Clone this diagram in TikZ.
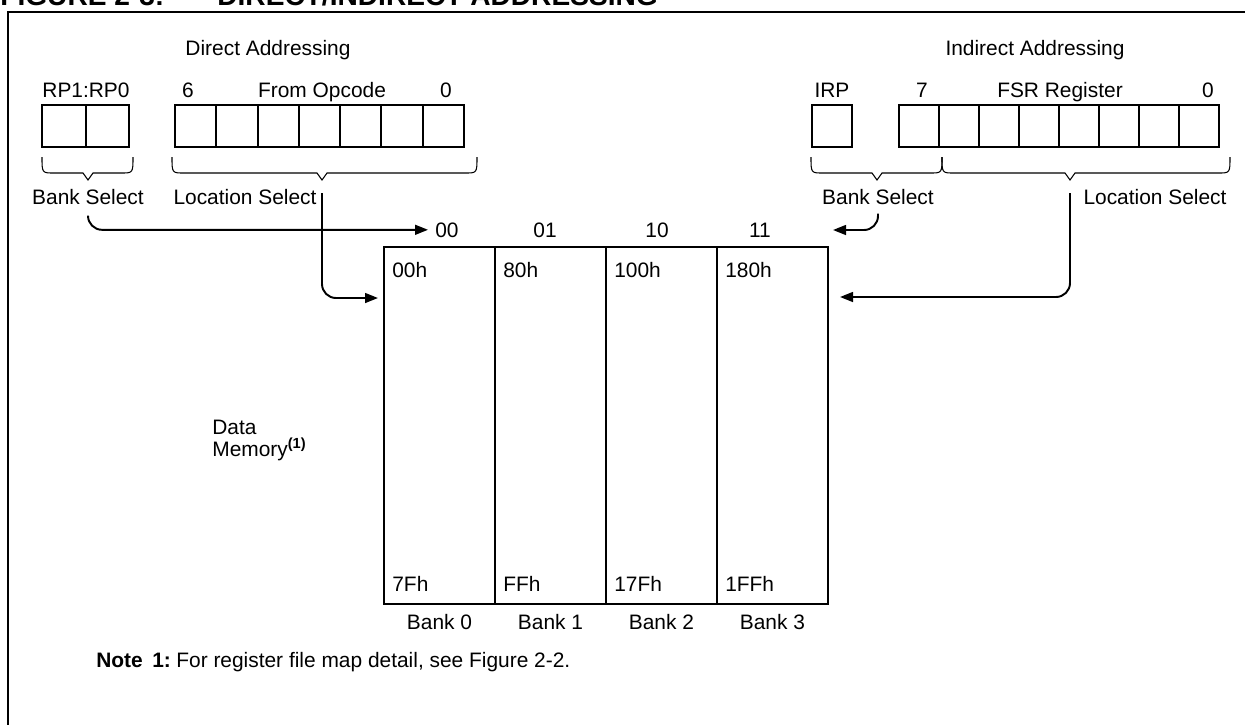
\documentclass[tikz,border=0pt]{standalone}
\usepackage{fontspec}
\setmainfont{Liberation Sans}
\usepackage{tikz}
\usetikzlibrary{arrows.meta,positioning}

\begin{document}
\begin{tikzpicture}[x=0.02cm,y=-0.02cm,>={Triangle[length=7.4pt,width=5.6pt]},
  font=\fontsize{11.9}{14}\selectfont,
  lbl/.style={inner sep=0pt,anchor=base},
  bitbox/.style={draw,line width=1.1pt,outer sep=0pt,inner sep=0pt,minimum height=0.84cm},
  bankbox/.style={draw,line width=1.1pt,outer sep=0pt,inner sep=0pt,minimum width=2.22cm,minimum height=7.14cm},
  brace/.style={line width=0.6pt},
  conn/.style={->,line width=1.1pt,rounded corners=0.28cm}]
\useasboundingbox (0,0) rectangle (1245,724);
\clip (0,0) rectangle (1245,724);

\draw[line width=1.3pt] (1250,12) -- (8,12) -- (8,730);
\node[lbl,anchor=base west,font=\fontsize{16}{18}\selectfont\bfseries] (fig) at (0,5) {FIGURE 2-3:};
\node[lbl,anchor=base west,font=\fontsize{16}{18}\selectfont\bfseries] (title) at (217,5) {DIRECT/INDIRECT ADDRESSING};

\node[lbl] (dirT) at (268,55) {Direct Addressing};
\node[lbl] (rpT) at (86,97) {RP1:RP0};
\node[lbl] (op6T) at (188,97) {6};
\node[lbl] (opT) at (322,97) {From Opcode};
\node[lbl] (op0T) at (446,97) {0};
\node[bitbox,minimum width=0.87cm] (rp1) at (64,126) {};
\node[bitbox,minimum width=0.87cm,right=0pt of rp1] (rp0) {};
\node[bitbox,minimum width=0.826cm] (op6) at (195.6,126) {};
\foreach \b [remember=\b as \p (initially 6)] in {5,4,3,2,1,0}
  \node[bitbox,minimum width=0.826cm,right=0pt of op\p] (op\b) {};

\node[lbl] (indT) at (1035,55) {Indirect Addressing};
\node[lbl] (irpT) at (832,97) {IRP};
\node[lbl] (fsr7T) at (922,97) {7};
\node[lbl] (fsrT) at (1060,97) {FSR Register};
\node[lbl] (fsr0T) at (1208,97) {0};
\node[bitbox,minimum width=0.8cm] (irp) at (832,126) {};
\node[bitbox,minimum width=0.8cm] (fsr7) at (919,126) {};
\foreach \b [remember=\b as \p (initially 7)] in {6,5,4,3,2,1,0}
  \node[bitbox,minimum width=0.8cm,right=0pt of fsr\p] (fsr\b) {};

\foreach \xa/\xm/\xb/\n in {42/88/133/BD,172/322/477/LD,811/877/942/BI,942/1070/1230/LI}{
  \draw[brace] (\xa,157) .. controls (\xa,173) .. (\xa+12,173) -- (\xm-5,173) -- (\xm,180)
    -- (\xm+5,173) -- (\xb-12,173) .. controls (\xb,173) .. (\xb,157);
  \coordinate (tip\n) at (\xm,180);
}
\node[lbl] (bsD) at (88,204) {Bank Select};
\node[lbl] (lsD) at (245,204) {Location Select};
\node[lbl] (bsI) at (878,204) {Bank Select};
\node[lbl] (lsI) at (1155,204) {Location Select};

\node[bankbox] (bank0) at (439.5,425.5) {};
\foreach \b [remember=\b as \p (initially 0)] in {1,2,3}
  \node[bankbox,right=0pt of bank\p] (bank\b) {};
\foreach \i/\hx/\bk/\hi/\lo in {0/447/00/00h/7Fh,1/545/01/80h/FFh,2/657/10/100h/17Fh,3/760/11/180h/1FFh}{
  \node[lbl] (col\i) at (\hx,237) {\bk};
  \node[lbl,anchor=base west] (hi\i) at ([shift={(0.16cm,-0.6cm)}]bank\i.north west) {\hi};
  \node[lbl,anchor=base west] (lo\i) at ([shift={(0.16cm,0.24cm)}]bank\i.south west) {\lo};
  \node[lbl] (name\i) at ([yshift=-0.52cm]bank\i.south) {Bank \i};
}
\node[lbl,anchor=base west] (dm1) at (212,434) {Data};
\node[lbl,anchor=base west] (dm2) at (212,456) {Memory\textsuperscript{\textbf{(1)}}};

\coordinate (inD) at (378,298);
\coordinate (inI) at (840,297);
\coordinate (bkI) at (833,230);
\draw[conn,shorten >=0.14cm] (bsD.south) ++(0,11) |- (col0.west);
\draw[conn] (tipLD) ++(0,13) |- (inD);
\draw[conn] (bsI.south) ++(0,9) |- (bkI);
\draw[conn] (tipLI) ++(0,13) |- (inI);

\node[lbl,anchor=base west] (noteK) at (96,667) {\textbf{Note}};
\node[lbl,anchor=base west] (noteN) at (152,667) {\textbf{1:}};
\node[lbl,anchor=base west] (noteT) at (176,667) {For register file map detail, see Figure 2-2.};
\end{tikzpicture}
\end{document}
